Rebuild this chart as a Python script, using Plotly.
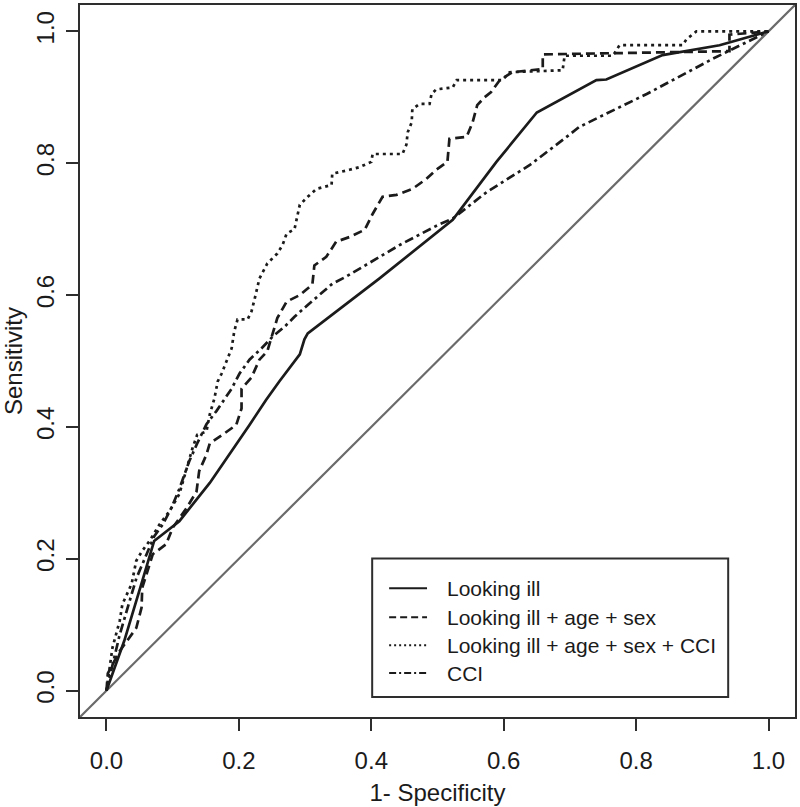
import plotly.graph_objects as go

# ---- data: (1 - specificity, sensitivity) points ----
looking_ill = [(0, 0), (0.027, 0.076), (0.054, 0.166), (0.062, 0.195), (0.072, 0.227),
               (0.110, 0.257), (0.156, 0.315), (0.216, 0.403), (0.241, 0.441), (0.261, 0.469),
               (0.292, 0.510), (0.299, 0.533), (0.304, 0.542), (0.412, 0.625), (0.523, 0.714),
               (0.589, 0.802), (0.650, 0.877), (0.740, 0.926), (0.755, 0.927), (0.840, 0.964),
               (0.926, 0.979), (1.0, 1.0)]

looking_ill_age_sex = [(0, 0), (0.002, 0.026), (0.020, 0.060), (0.045, 0.095), (0.053, 0.126),
                       (0.054, 0.156), (0.070, 0.207), (0.090, 0.222), (0.100, 0.247), (0.121, 0.277),
                       (0.136, 0.302), (0.140, 0.333), (0.151, 0.358), (0.156, 0.375), (0.175, 0.388),
                       (0.196, 0.403), (0.204, 0.428), (0.204, 0.458), (0.219, 0.475), (0.231, 0.502),
                       (0.243, 0.515), (0.250, 0.540), (0.258, 0.565), (0.272, 0.590), (0.292, 0.600),
                       (0.311, 0.616), (0.314, 0.645), (0.332, 0.658), (0.347, 0.681), (0.367, 0.688),
                       (0.390, 0.699), (0.402, 0.723), (0.417, 0.749), (0.438, 0.752), (0.462, 0.761),
                       (0.483, 0.776), (0.498, 0.790), (0.515, 0.802), (0.518, 0.837), (0.544, 0.840),
                       (0.553, 0.862), (0.560, 0.888), (0.571, 0.900), (0.581, 0.908), (0.594, 0.926),
                       (0.613, 0.938), (0.659, 0.943), (0.659, 0.965), (0.866, 0.968), (0.941, 0.970),
                       (0.941, 0.995), (1.0, 1.0)]

looking_ill_age_sex_cci = [(0, 0), (0.005, 0.041), (0.009, 0.065), (0.020, 0.106), (0.024, 0.131),
                           (0.038, 0.162), (0.045, 0.197), (0.054, 0.212), (0.065, 0.227), (0.080, 0.252),
                           (0.095, 0.272), (0.110, 0.298), (0.121, 0.337), (0.130, 0.368), (0.137, 0.388),
                           (0.151, 0.393), (0.156, 0.419), (0.163, 0.443), (0.168, 0.469), (0.174, 0.481),
                           (0.181, 0.499), (0.189, 0.519), (0.193, 0.545), (0.198, 0.563), (0.213, 0.563),
                           (0.219, 0.575), (0.224, 0.595), (0.228, 0.610), (0.231, 0.625), (0.243, 0.648),
                           (0.258, 0.663), (0.266, 0.676), (0.272, 0.693), (0.284, 0.700), (0.290, 0.725),
                           (0.292, 0.737), (0.304, 0.749), (0.317, 0.761), (0.340, 0.767), (0.341, 0.784),
                           (0.367, 0.790), (0.382, 0.794), (0.400, 0.802), (0.402, 0.814), (0.447, 0.814),
                           (0.453, 0.828), (0.455, 0.847), (0.461, 0.862), (0.462, 0.882), (0.473, 0.890),
                           (0.488, 0.890), (0.491, 0.905), (0.498, 0.912), (0.523, 0.915), (0.529, 0.926),
                           (0.598, 0.926), (0.609, 0.938), (0.689, 0.941), (0.692, 0.963), (0.765, 0.963),
                           (0.775, 0.979), (0.870, 0.979), (0.876, 0.988), (0.891, 1.0), (1.0, 1.0)]

cci = [(0, 0), (0.020, 0.085), (0.045, 0.170), (0.072, 0.234), (0.085, 0.252), (0.098, 0.277),
       (0.110, 0.306), (0.125, 0.348), (0.137, 0.375), (0.151, 0.404), (0.166, 0.424), (0.178, 0.442),
       (0.189, 0.458), (0.201, 0.481), (0.216, 0.502), (0.234, 0.519), (0.251, 0.537), (0.269, 0.552),
       (0.284, 0.567), (0.304, 0.585), (0.322, 0.600), (0.341, 0.617), (0.362, 0.628), (0.382, 0.640),
       (0.412, 0.658), (0.443, 0.676), (0.500, 0.706), (0.523, 0.716), (0.574, 0.756), (0.639, 0.797),
       (0.699, 0.843), (0.714, 0.855), (0.816, 0.905), (0.915, 0.958), (1.0, 1.0)]

series_names = ["Looking ill", "Looking ill + age + sex",
                "Looking ill + age + sex + CCI", "CCI"]
series_data = [looking_ill, looking_ill_age_sex, looking_ill_age_sex_cci, cci]
tick_values = [0.0, 0.2, 0.4, 0.6, 0.8, 1.0]

# ---- styling ----
W, H = 800, 807
ML, MR, MT, MB = 80, 3, 3, 90
FONT = "Liberation Sans, Arial, Helvetica, sans-serif"
INK = "#1b1b1b"
curve_dashes = ["solid", "9px,5px", "3px,4px", "9px,4px,3px,4px"]
legend_dashes = ["solid", "7px,4px", "2px,3px", "7px,3px,2px,3px"]
LW = 2.7

fig = go.Figure()

# reference diagonal (chance line)
fig.add_shape(type="line", xref="x", yref="y", x0=-0.04, y0=-0.04, x1=1.04, y1=1.04,
              line=dict(color="#6a6a6a", width=2.2), layer="below")

for name, pts, dash in zip(series_names, series_data, curve_dashes):
    fig.add_trace(go.Scatter(
        x=[p[0] for p in pts], y=[p[1] for p in pts], name=name, mode="lines",
        line=dict(color=INK, width=LW, dash=dash), showlegend=False))

axis_common = dict(
    range=[-0.04, 1.04], tickvals=tick_values, tickformat=".1f",
    showgrid=False, zeroline=False, showline=True, mirror=True,
    linecolor="#2e2e2e", linewidth=2, ticks="outside", ticklen=12, tickwidth=2,
    tickcolor="#2e2e2e", tickfont=dict(family=FONT, size=24, color=INK),
)

fig.update_xaxes(**axis_common, ticklabelstandoff=9,
                 title=dict(text="1- Specificity", font=dict(family=FONT, size=24, color=INK),
                            standoff=11))
fig.update_yaxes(**axis_common, tickangle=-90, ticklabelstandoff=2,
                 title=dict(text="Sensitivity", font=dict(family=FONT, size=24, color=INK),
                            standoff=12))

# ---- manual legend (box, line samples, labels) in pixel-derived paper coords ----
def px(xp):
    return (xp - ML) / (W - ML - MR)

def py(yp):
    return (H - MB - yp) / (H - MT - MB)

fig.add_shape(type="rect", xref="paper", yref="paper",
              x0=px(373), x1=px(730), y0=py(697), y1=py(558),
              line=dict(color="#2e2e2e", width=2), fillcolor="white", layer="above")
rows = [588, 617, 645, 673]
for name, dash, ry in zip(series_names, legend_dashes, rows):
    fig.add_shape(type="line", xref="paper", yref="paper",
                  x0=px(390), x1=px(428), y0=py(ry), y1=py(ry),
                  line=dict(color=INK, width=2, dash=dash), layer="above")
    fig.add_annotation(xref="paper", yref="paper", x=px(446), y=py(ry),
                       text=name, showarrow=False, xanchor="left", yanchor="middle",
                       font=dict(family=FONT, size=21, color=INK))

fig.update_layout(
    width=W, height=H, margin=dict(l=ML, r=MR, t=MT, b=MB),
    paper_bgcolor="white", plot_bgcolor="white",
    font=dict(family=FONT, size=21, color=INK),
)

fig.write_html("out.html", config={"displayModeBar": False},
               post_script="document.body.style.margin='0';document.body.style.overflow='hidden';")
